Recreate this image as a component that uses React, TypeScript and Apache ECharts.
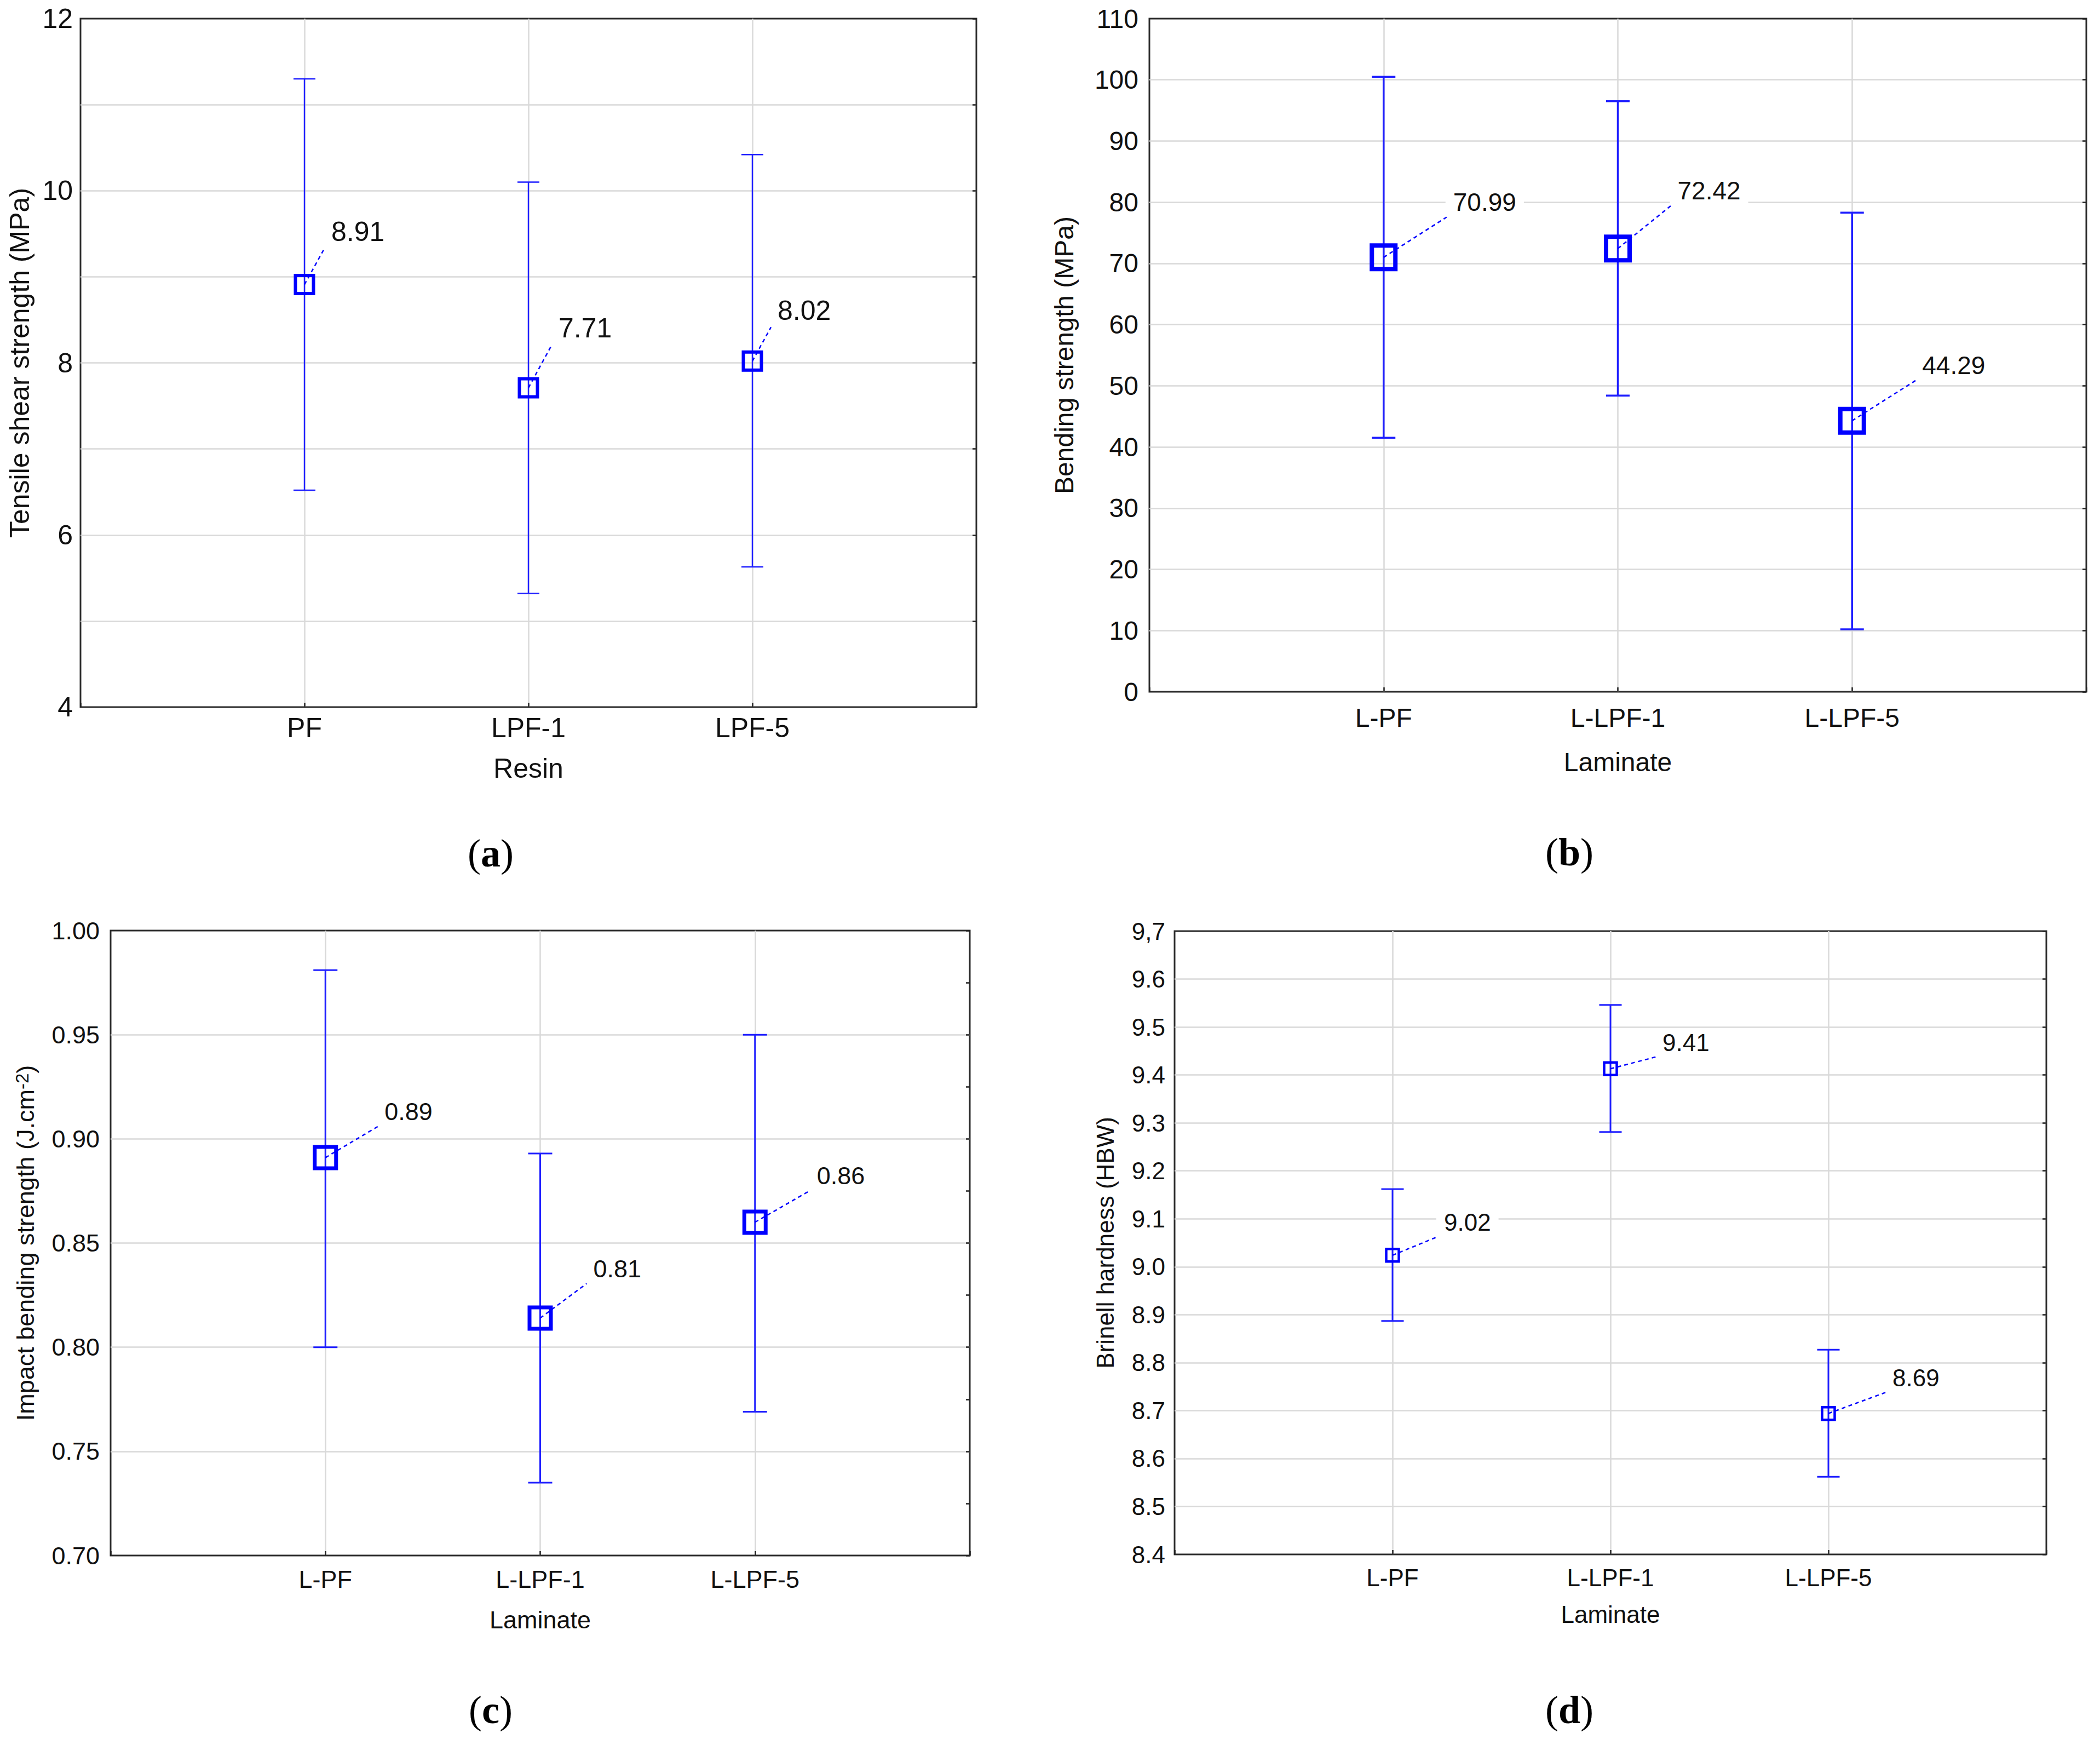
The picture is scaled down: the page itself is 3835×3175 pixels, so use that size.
import React, { useEffect, useRef } from 'react';
import * as echarts from 'echarts';

const W = 3835;
const H = 3175;

// ---------- (a) Tensile shear strength ----------
const resinCategories = ['PF', 'LPF-1', 'LPF-5'];
const tensileMean = [8.91, 7.71, 8.02];
const tensileLow = [6.52, 5.32, 5.63];
const tensileHigh = [11.3, 10.1, 10.42];
const tensileLabels = ['8.91', '7.71', '8.02'];
const tensileTicks = ['4', '', '6', '', '8', '', '10', '', '12'];

// ---------- (b) Bending strength ----------
const laminateCategories = ['L-PF', 'L-LPF-1', 'L-LPF-5'];
const bendingMean = [70.99, 72.42, 44.29];
const bendingLow = [41.5, 48.4, 10.2];
const bendingHigh = [100.5, 96.5, 78.3];
const bendingLabels = ['70.99', '72.42', '44.29'];
const bendingTicks = ['0', '10', '20', '30', '40', '50', '60', '70', '80', '90', '100', '110'];

// ---------- (c) Impact bending strength ----------
const impactMean = [0.891, 0.814, 0.86];
const impactLow = [0.8, 0.735, 0.769];
const impactHigh = [0.981, 0.893, 0.95];
const impactLabels = ['0.89', '0.81', '0.86'];
const impactTicks = ['0.70', '0.75', '0.80', '0.85', '0.90', '0.95', '1.00'];

// ---------- (d) Brinell hardness ----------
const hardnessMean = [9.024, 9.413, 8.694];
const hardnessLow = [8.887, 9.281, 8.562];
const hardnessHigh = [9.162, 9.546, 8.827];
const hardnessLabels = ['9.02', '9.41', '8.69'];
const hardnessTicks = ['8.4', '8.5', '8.6', '8.7', '8.8', '8.9', '9.0', '9.1', '9.2', '9.3', '9.4', '9.5', '9.6', '9,7'];

const SANS = '"Liberation Sans", Arial, Helvetica, sans-serif';
const SERIF = '"Liberation Serif", "Times New Roman", serif';
const MARK = '#0000ff';
const BAR = '#1f1fff';
const TEXT = '#111111';
const GRID = '#d9d9d9';

// layout / style table (positions and sizes only)
const PANELS = [
  {
    caption: 'a', cats: resinCategories, mean: tensileMean, low: tensileLow, high: tensileHigh,
    labels: tensileLabels, ticks: tensileTicks, yMin: 4, yMax: 12, yInterval: 1, rightInterval: 1,
    xName: 'Resin', yName: 'Tensile shear strength (MPa)',
    grid: { left: 147, top: 34, width: 1636, height: 1257 },
    font: 50, labelFont: 50, yNameGap: 86, xNameGap: 87, xLabelMargin: 13, yLabelMargin: 14,
    markerSize: 33, markerBorder: 6, barWidth: 2.5, capWidth: 40,
    offsets: [[49, -97], [55, -109], [46, -92]], captionPos: [896, 1558],
  },
  {
    caption: 'b', cats: laminateCategories, mean: bendingMean, low: bendingLow, high: bendingHigh,
    labels: bendingLabels, ticks: bendingTicks, yMin: 0, yMax: 110, yInterval: 10, rightInterval: 10,
    xName: 'Laminate', yName: 'Bending strength (MPa)',
    grid: { left: 2099, top: 34, width: 1711, height: 1229 },
    font: 48, labelFont: 46, yNameGap: 132, xNameGap: 104, xLabelMargin: 23, yLabelMargin: 20,
    markerSize: 43, markerBorder: 8, barWidth: 3.5, capWidth: 43,
    offsets: [[127, -101], [109, -106], [128, -101]], captionPos: [2866, 1556],
  },
  {
    caption: 'c', cats: laminateCategories, mean: impactMean, low: impactLow, high: impactHigh,
    labels: impactLabels, ticks: impactTicks, yMin: 0.7, yMax: 1.0, yInterval: 0.05, rightInterval: 0.025,
    xName: 'Laminate', yName: 'Impact bending strength (J.cm{sup|-2})',
    grid: { left: 202, top: 1699, width: 1569, height: 1141 },
    font: 45, labelFont: 45, yNameGap: 133, xNameGap: 95, xLabelMargin: 21, yLabelMargin: 20,
    markerSize: 39, markerBorder: 7, barWidth: 3, capWidth: 44,
    offsets: [[108, -84], [97, -90], [113, -85]], captionPos: [896, 3122],
  },
  {
    caption: 'd', cats: laminateCategories, mean: hardnessMean, low: hardnessLow, high: hardnessHigh,
    labels: hardnessLabels, ticks: hardnessTicks, yMin: 8.4, yMax: 9.7, yInterval: 0.1, rightInterval: 0.1,
    xName: 'Laminate', yName: 'Brinell hardness (HBW)',
    grid: { left: 2145, top: 1700, width: 1592, height: 1138 },
    font: 44, labelFont: 44, yNameGap: 105, xNameGap: 87, xLabelMargin: 20, yLabelMargin: 17,
    markerSize: 23, markerBorder: 4.5, barWidth: 3, capWidth: 41,
    offsets: [[94, -60], [95, -48], [117, -65]], captionPos: [2866, 3122],
  },
];

function buildOption(): any {
  const grids: any[] = [];
  const xAxes: any[] = [];
  const yAxes: any[] = [];
  const series: any[] = [];
  const graphics: any[] = [];

  PANELS.forEach((p, i) => {
    grids.push({
      ...p.grid,
      show: true,
      borderColor: '#2b2b2b',
      borderWidth: 3,
      backgroundColor: '#ffffff',
      containLabel: false,
    });

    xAxes.push({
      gridIndex: i,
      type: 'value',
      min: 0,
      max: 4,
      interval: 1,
      axisLine: { show: false, onZero: false },
      axisTick: { show: true, inside: true, length: 8, lineStyle: { color: '#222', width: 2.5 } },
      axisLabel: {
        formatter: (v: number) => p.cats[Math.round(v) - 1] ?? '',
        fontSize: p.font,
        fontFamily: SANS,
        color: TEXT,
        margin: p.xLabelMargin,
      },
      splitLine: { show: true, showMinLine: false, showMaxLine: false, lineStyle: { color: GRID, width: 2.5 } },
      name: p.xName,
      nameLocation: 'middle',
      nameGap: p.xNameGap,
      nameTextStyle: { fontSize: p.font, fontFamily: SANS, color: TEXT },
    });

    yAxes.push({
      gridIndex: i,
      type: 'value',
      position: 'left',
      min: p.yMin,
      max: p.yMax,
      interval: p.yInterval,
      axisLine: { show: false, onZero: false },
      axisTick: { show: false },
      axisLabel: {
        formatter: (v: number) => p.ticks[Math.round((v - p.yMin) / p.yInterval)] ?? '',
        fontSize: p.font,
        fontFamily: SANS,
        color: TEXT,
        margin: p.yLabelMargin,
      },
      splitLine: { show: true, showMinLine: false, showMaxLine: false, lineStyle: { color: GRID, width: 2.5 } },
      name: p.yName,
      nameLocation: 'middle',
      nameGap: p.yNameGap,
      nameTextStyle: {
        fontSize: p.font,
        fontFamily: SANS,
        color: TEXT,
        rich: { sup: { fontSize: Math.round(p.font * 0.74), fontFamily: SANS, color: TEXT, verticalAlign: 'top' } },
      },
    });

    yAxes.push({
      gridIndex: i,
      type: 'value',
      position: 'right',
      min: p.yMin,
      max: p.yMax,
      interval: p.rightInterval,
      axisLine: { show: false, onZero: false },
      axisTick: { show: true, inside: true, length: 7, lineStyle: { color: '#222', width: 2.5 } },
      axisLabel: { show: false },
      splitLine: { show: false },
    });

    const rows = p.cats.map((_, k) => [k + 1, p.low[k], p.high[k]]);
    const half = p.capWidth / 2;
    series.push({
      type: 'custom',
      xAxisIndex: i,
      yAxisIndex: 2 * i,
      data: rows,
      encode: { x: 0, y: [1, 2] },
      silent: true,
      renderItem: (params: any, api: any) => {
        const x = api.value(0);
        const top = api.coord([x, api.value(2)]);
        const bot = api.coord([x, api.value(1)]);
        const style = { stroke: BAR, lineWidth: p.barWidth };
        return {
          type: 'group',
          children: [
            { type: 'line', shape: { x1: top[0], y1: top[1], x2: bot[0], y2: bot[1] }, style },
            { type: 'line', shape: { x1: top[0] - half, y1: top[1], x2: top[0] + half, y2: top[1] }, style },
            { type: 'line', shape: { x1: bot[0] - half, y1: bot[1], x2: bot[0] + half, y2: bot[1] }, style },
          ],
        };
      },
    });

    series.push({
      type: 'scatter',
      xAxisIndex: i,
      yAxisIndex: 2 * i,
      data: p.mean.map((m, k) => [k + 1, m]),
      symbol: 'rect',
      symbolSize: p.markerSize,
      silent: true,
      itemStyle: { color: 'rgba(255,255,255,0)', borderColor: MARK, borderWidth: p.markerBorder, opacity: 1 },
    });

    series.push({
      type: 'custom',
      xAxisIndex: i,
      yAxisIndex: 2 * i,
      data: p.mean.map((m, k) => [k + 1, m]),
      silent: true,
      renderItem: (params: any, api: any) => {
        const k = params.dataIndex;
        const c = api.coord([api.value(0), api.value(1)]);
        const [dx, dy] = p.offsets[k];
        const tx = c[0] + dx;
        const ty = c[1] + dy;
        const pad = 14;
        return {
          type: 'group',
          children: [
            {
              type: 'line',
              shape: { x1: c[0], y1: c[1], x2: tx - 12, y2: ty + 0.6 * p.labelFont },
              style: { stroke: MARK, lineWidth: 2.5, lineDash: [7, 6] },
            },
            {
              type: 'text',
              x: tx - pad,
              y: ty,
              style: {
                text: p.labels[k],
                fill: TEXT,
                fontSize: p.labelFont,
                fontFamily: SANS,
                align: 'left',
                verticalAlign: 'middle',
                backgroundColor: '#ffffff',
                padding: [2, pad, 2, pad],
              },
            },
          ],
        };
      },
    });

    graphics.push({
      type: 'text',
      x: p.captionPos[0],
      y: p.captionPos[1],
      style: {
        text: `{n|(}{b|${p.caption}}{n|)}`,
        align: 'center',
        verticalAlign: 'middle',
        rich: {
          n: { fontSize: 72, fontFamily: SERIF, fill: '#000' },
          b: { fontSize: 72, fontFamily: SERIF, fontWeight: 'bold', fill: '#000' },
        },
      },
    });
  });

  return {
    animation: false,
    backgroundColor: '#ffffff',
    grid: grids,
    xAxis: xAxes,
    yAxis: yAxes,
    series,
    graphic: graphics,
  };
}

export default function App() {
  const ref = useRef<HTMLDivElement | null>(null);
  useEffect(() => {
    if (!ref.current) return;
    const chart = echarts.init(ref.current, undefined, { renderer: 'svg', width: W, height: H });
    chart.setOption(buildOption());
    return () => chart.dispose();
  }, []);
  return (
    <div
      ref={ref}
      style={{ position: 'absolute', left: 0, top: 0, width: W, height: H, background: '#fff' }}
    />
  );
}
